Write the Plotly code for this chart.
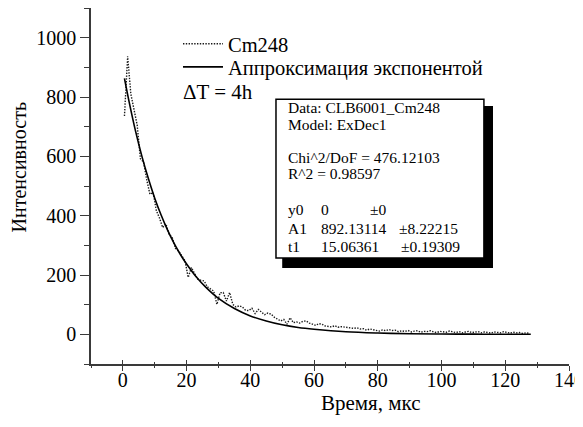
import plotly.graph_objects as go

# --- data ---
time_us = [0.5, 1.5, 2.5, 3.5, 4.5, 5.5, 6.5, 7.5, 8.5, 9.5,
           10.5, 11.5, 12.5, 13.5, 14.5, 15.5, 16.5, 17.5, 18.5, 19.5,
           20.5, 21.5, 22.5, 23.5, 24.5, 25.5, 26.5, 27.5, 28.5, 29.5,
           30.5, 31.5, 32.5, 33.5, 34.5, 35.5, 36.5, 37.5, 38.5, 39.5,
           40.5, 41.5, 42.5, 43.5, 44.5, 45.5, 46.5, 47.5, 48.5, 49.5,
           50.5, 51.5, 52.5, 53.5, 54.5, 55.5, 56.5, 57.5, 58.5, 59.5,
           60.5, 61.5, 62.5, 63.5, 64.5, 65.5, 66.5, 67.5, 68.5, 69.5,
           70.5, 71.5, 72.5, 73.5, 74.5, 75.5, 76.5, 77.5, 78.5, 79.5,
           80.5, 81.5, 82.5, 83.5, 84.5, 85.5, 86.5, 87.5, 88.5, 89.5,
           90.5, 91.5, 92.5, 93.5, 94.5, 95.5, 96.5, 97.5, 98.5, 99.5,
           100.5, 101.5, 102.5, 103.5, 104.5, 105.5, 106.5, 107.5, 108.5, 109.5,
           110.5, 111.5, 112.5, 113.5, 114.5, 115.5, 116.5, 117.5, 118.5, 119.5,
           120.5, 121.5, 122.5, 123.5, 124.5, 125.5, 126.5, 127.5]
cm248 = [736, 937, 810, 752, 705, 592, 580, 520, 472, 478,
         417, 392, 360, 372, 338, 326, 290, 281, 262, 248,
         192, 225, 205, 186, 182, 180, 160, 152, 146, 101,
         140, 141, 112, 141, 101, 92, 96, 92, 81, 80,
         88, 70, 84, 75, 66, 72, 68, 58, 52, 45,
         50, 34, 56, 39, 42, 38, 44, 45, 38, 34,
         30, 36, 34, 28, 27, 25, 29, 24, 26, 25,
         24, 21, 20, 22, 18, 19, 14, 18, 15, 14,
         11, 15, 12, 16, 13, 14, 9, 12, 10, 13,
         8, 11, 12, 7, 10, 9, 12, 8, 6, 10,
         9, 7, 11, 8, 6, 9, 5, 8, 10, 6,
         7, 9, 5, 8, 6, 4, 8, 7, 5, 9,
         6, 4, 7, 5, 6, 3, 5, 4]

fit_time = [0.5, 2, 4, 6, 8, 10, 12, 14, 16, 18, 20, 23, 26, 30, 35, 40,
            45, 50, 55, 60, 70, 80, 90, 100, 110, 120, 128]
fit_vals = [863, 782, 684, 599, 525, 459, 402, 352, 308, 270, 237, 194, 159,
            121, 87, 62, 45, 32, 23, 17, 8.5, 4.4, 2.2, 1.2, 0.6, 0.3, 0.2]

x_ticks = [0, 20, 40, 60, 80, 100, 120, 140]
y_ticks = [0, 200, 400, 600, 800, 1000]

legend_names = ["Cm248", "Аппроксимация экспонентой"]
x_title = "Время, мкс"
y_title = "Интенсивность"
note = "ΔT = 4h"

box_rows = [
    ("Data: CLB6001_Cm248", "", ""),
    ("Model: ExDec1", "", ""),
    ("Chi^2/DoF = 476.12103", "", ""),
    ("R^2 = 0.98597", "", ""),
    ("y0", "0", "±0"),
    ("A1", "892.13114", "±8.22215"),
    ("t1", "15.06361", "±0.19309"),
]

FONT = "Liberation Serif, Times New Roman, serif"
AX = "#3a3a3a"

def f(size):
    return dict(family=FONT, size=size, color="black")

fig = go.Figure()
fig.add_trace(go.Scatter(x=time_us, y=cm248, mode="lines", name=legend_names[0],
                         legend="legend",
                         line=dict(color="#1a1a1a", width=1.4, dash="1.4px,1.4px")))
fig.add_trace(go.Scatter(x=fit_time, y=fit_vals, mode="lines", name=legend_names[1],
                         legend="legend2",
                         line=dict(color="black", width=1.6, shape="spline")))
# helper trace for the inside-tick overlay axis
fig.add_trace(go.Scatter(x=[None], y=[None], xaxis="x2", yaxis="y",
                         showlegend=False, hoverinfo="skip"))

leg_common = dict(xanchor="left", yanchor="middle", bgcolor="rgba(0,0,0,0)",
                  font=f(20.5), itemwidth=40, borderwidth=0)

fig.update_layout(
    width=575, height=419,
    margin=dict(l=83, r=14, t=0, b=63),
    paper_bgcolor="white", plot_bgcolor="white",
    font=f(20),
    showlegend=True,
    legend=dict(x=0.182, y=0.899, **leg_common),
    legend2=dict(x=0.182, y=0.834, **leg_common),
    xaxis=dict(range=[-10, 140], tickvals=x_ticks, showgrid=False, zeroline=False,
               showline=True, linecolor=AX, linewidth=1.5,
               ticks="outside", ticklen=5, tickwidth=1.3, tickcolor=AX,
               minor=dict(dtick=10, ticks="outside", ticklen=2, tickwidth=1.2, tickcolor=AX),
               tickfont=f(20), ticklabeloverflow="allow", ticklabelstandoff=-8),
    xaxis2=dict(range=[-10, 140], overlaying="x", side="bottom", anchor="y",
                tickvals=x_ticks, showticklabels=False, showgrid=False, zeroline=False,
                showline=False, ticks="inside", ticklen=4, tickwidth=1.3, tickcolor=AX,
                minor=dict(dtick=10, ticks="inside", ticklen=2, tickwidth=1.2, tickcolor=AX)),
    yaxis=dict(range=[-100, 1100], tickvals=y_ticks, showgrid=False, zeroline=False,
               showline=True, linecolor=AX, linewidth=1.5,
               ticks="outside", ticklen=9, tickwidth=1.3, tickcolor=AX,
               minor=dict(dtick=100, ticks="outside", ticklen=5, tickwidth=1.2, tickcolor=AX),
               tickfont=f(20), ticklabeloverflow="allow"),
)

# axis titles
fig.add_annotation(text=x_title, xref="paper", yref="paper", x=0.586, y=-0.110,
                   xanchor="center", yanchor="middle", showarrow=False, font=f(21))
fig.add_annotation(text=y_title, xref="paper", yref="paper", x=-0.150, y=0.553,
                   xanchor="center", yanchor="middle", showarrow=False, textangle=-90,
                   font=f(20))
fig.add_annotation(text=note, xref="paper", yref="paper", x=0.188, y=0.764,
                   xanchor="left", yanchor="middle", showarrow=False, font=f(21))

# stats box with shadow
fig.add_shape(type="rect", xref="paper", yref="paper", x0=0.400, x1=0.841, y0=0.270, y1=0.725,
              fillcolor="black", line=dict(width=0), layer="above")
fig.add_shape(type="rect", xref="paper", yref="paper", x0=0.387, x1=0.822, y0=0.298, y1=0.744,
              fillcolor="white", line=dict(color="black", width=1.5), layer="above")

row_y = [0.720, 0.673, 0.581, 0.535, 0.433, 0.382, 0.331]
col_x = [0.408, 0.477]
pm_x = [0.580, 0.640, 0.644]
for i, (a, b, c) in enumerate(box_rows):
    fig.add_annotation(text=a, xref="paper", yref="paper", x=col_x[0], y=row_y[i],
                       xanchor="left", yanchor="middle", showarrow=False, font=f(15.5))
    if b:
        fig.add_annotation(text=b, xref="paper", yref="paper", x=col_x[1], y=row_y[i],
                           xanchor="left", yanchor="middle", showarrow=False, font=f(15.5))
    if c:
        fig.add_annotation(text=c, xref="paper", yref="paper", x=pm_x[i - 4], y=row_y[i],
                           xanchor="left", yanchor="middle", showarrow=False, font=f(15.5))

fig.write_html("out.html")
